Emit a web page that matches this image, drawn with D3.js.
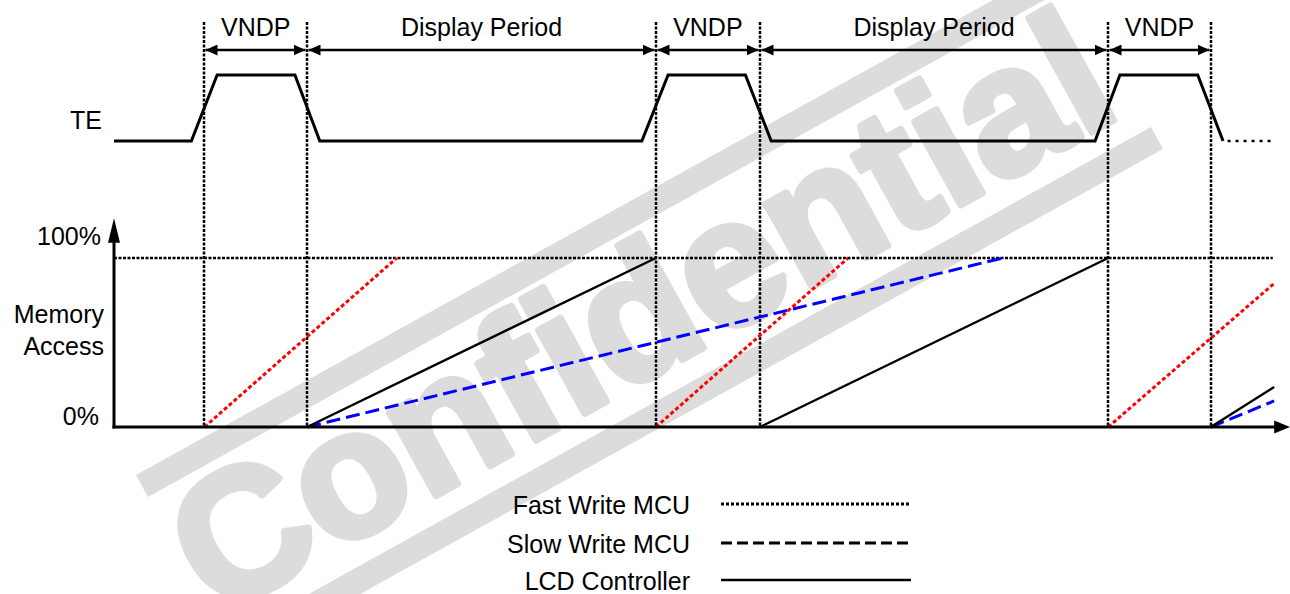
<!DOCTYPE html>
<html>
<head>
<meta charset="utf-8">
<script src="https://cdn.jsdelivr.net/npm/d3@7"></script>
<style>
  body { margin: 0; background: #fff; }
  svg { display: block; }
  text { font-family: Arial, "Liberation Sans", sans-serif; fill: #000; }
</style>
</head>
<body>
<div id="chart"></div>
<script>
// time axis in arbitrary units, frame = 10 units
const periodEdges = [2.0, 4.27, 11.98, 14.28, 21.98, 24.25];
const periodLabels = ['VNDP', 'Display Period', 'VNDP', 'Display Period', 'VNDP'];

// TE signal (0 = low, 1 = high)
const teTimes = [0, 1.71, 2.28, 4.0, 4.55, 11.67, 12.25, 13.96, 14.53, 21.69, 22.24, 23.96, 24.52];
const teLevels = [0, 0, 1, 1, 0, 0, 1, 1, 0, 0, 1, 1, 0];
const teTail = [24.62, 25.6];

// memory access ramps [t, %]
const fastWrite = [[[2.0, 0], [6.25, 100]], [[11.98, 0], [16.23, 100]], [[21.98, 0], [25.65, 85]]];
const slowWrite = [[[4.27, 0], [19.65, 100]], [[24.25, 0], [25.65, 15.4]]];
const lcdController = [[[4.27, 0], [11.98, 100]], [[14.28, 0], [21.98, 100]], [[24.25, 0], [25.65, 23.7]]];

const legendLabels = ['Fast Write MCU', 'Slow Write MCU', 'LCD Controller'];
const yLabels = ['100%', '0%'];

const width = 1290, height = 594;

const svg = d3.select('#chart').append('svg')
  .attr('width', width)
  .attr('height', height);

const x = d3.scaleLinear().domain([0, 26]).range([114, 1290]);
const yTE = d3.scaleLinear().domain([0, 1]).range([141, 75]);
const y = d3.scaleLinear().domain([0, 100]).range([427, 258]);
const px = t => Math.round(x(t)); // crisp dotted guides

// watermark (behind everything)
const wm = svg.append('g').attr('class', 'watermark');
const wmColor = '#dcdcdc';
const ang = -29, ca = Math.cos(ang * Math.PI / 180), sa = Math.sin(ang * Math.PI / 180);
wm.append('line')
  .attr('x1', 142).attr('y1', 486)
  .attr('x2', 142 + ca * 1100).attr('y2', 486 + sa * 1100)
  .attr('stroke', wmColor).attr('stroke-width', 25);
wm.append('line')
  .attr('x1', 1157).attr('y1', 138)
  .attr('x2', 1157 - ca * 1100).attr('y2', 138 - sa * 1100)
  .attr('stroke', wmColor).attr('stroke-width', 25);
wm.append('text')
  .attr('transform', `translate(670,366) rotate(${ang})`)
  .attr('text-anchor', 'middle')
  .style('font-size', '180px')
  .style('font-weight', 'bold')
  .style('fill', wmColor)
  .style('stroke', wmColor)
  .style('stroke-width', 7)
  .style('stroke-linejoin', 'round')
  .text('Confidential');

// vertical dotted guides
const dotted = { width: 2.5, dash: '3,1.5' };
svg.append('g')
  .selectAll('line')
  .data(periodEdges)
  .join('line')
  .attr('x1', d => px(d)).attr('x2', d => px(d))
  .attr('y1', 22).attr('y2', y(0))
  .attr('stroke', '#000').attr('stroke-width', dotted.width)
  .attr('stroke-dasharray', dotted.dash);

// 100% dotted line
svg.append('line')
  .attr('x1', x(0)).attr('x2', x(25.62))
  .attr('y1', y(100)).attr('y2', y(100))
  .attr('stroke', '#000').attr('stroke-width', dotted.width)
  .attr('stroke-dasharray', dotted.dash);

// arrow markers
const defs = svg.append('defs');
defs.append('marker')
  .attr('id', 'ah')
  .attr('viewBox', '0 0 12 11')
  .attr('refX', 12).attr('refY', 5.5)
  .attr('markerWidth', 12).attr('markerHeight', 11)
  .attr('markerUnits', 'userSpaceOnUse')
  .attr('orient', 'auto-start-reverse')
  .append('path').attr('d', 'M0,0L12,5.5L0,11Z').attr('fill', '#000');

// period arrows + labels
const periods = periodLabels.map((label, i) => ({ label, t0: periodEdges[i], t1: periodEdges[i + 1] }));
svg.append('g')
  .selectAll('line')
  .data(periods)
  .join('line')
  .attr('x1', d => px(d.t0) + 1.5).attr('x2', d => px(d.t1) - 1.5)
  .attr('y1', 50).attr('y2', 50)
  .attr('stroke', '#000').attr('stroke-width', 2.5)
  .attr('marker-start', 'url(#ah)')
  .attr('marker-end', 'url(#ah)');
svg.append('g')
  .selectAll('text')
  .data(periods)
  .join('text')
  .attr('x', d => (x(d.t0) + x(d.t1)) / 2)
  .attr('y', 36)
  .attr('text-anchor', 'middle')
  .style('font-size', '25px')
  .text(d => d.label);

// TE waveform
const teLine = d3.line().x(d => x(d[0])).y(d => yTE(d[1]));
svg.append('path')
  .datum(teTimes.map((t, i) => [t, teLevels[i]]))
  .attr('d', teLine)
  .attr('fill', 'none').attr('stroke', '#000').attr('stroke-width', 3)
  .attr('stroke-linejoin', 'miter');
svg.append('line')
  .attr('x1', x(teTail[0])).attr('x2', x(teTail[1]))
  .attr('y1', yTE(0)).attr('y2', yTE(0))
  .attr('stroke', '#000').attr('stroke-width', 2.5)
  .attr('stroke-dasharray', '3,5');
svg.append('text')
  .attr('x', 102).attr('y', 129)
  .attr('text-anchor', 'end')
  .style('font-size', '25px')
  .text('TE');

// memory access series
const mLine = d3.line().x(d => x(d[0])).y(d => y(d[1]));
const seriesStyle = [
  { data: fastWrite, color: '#ff0000', width: 3, dash: '4,2.5' },
  { data: slowWrite, color: '#0000ff', width: 3, dash: '14,6' },
  { data: lcdController, color: '#000', width: 2.4, dash: null }
];
seriesStyle.forEach(s => {
  svg.append('g')
    .selectAll('path')
    .data(s.data)
    .join('path')
    .attr('d', mLine)
    .attr('fill', 'none')
    .attr('stroke', s.color)
    .attr('stroke-width', s.width)
    .attr('stroke-dasharray', s.dash);
});

// axes
svg.append('line')
  .attr('x1', x(0)).attr('x2', x(0))
  .attr('y1', y(0) + 1.5).attr('y2', y(110))
  .attr('stroke', '#000').attr('stroke-width', 3);
svg.append('path')
  .attr('d', `M${x(0)},${y(123.5)}L${x(0) + 6},${y(109)}L${x(0) - 6},${y(109)}Z`)
  .attr('fill', '#000');
svg.append('line')
  .attr('x1', x(0) - 1.5).attr('x2', x(25.7))
  .attr('y1', y(0)).attr('y2', y(0))
  .attr('stroke', '#000').attr('stroke-width', 3);
svg.append('path')
  .attr('d', `M${x(26)},${y(0)}L${x(25.65)},${y(0) - 6.5}L${x(25.65)},${y(0) + 6.5}Z`)
  .attr('fill', '#000');

// y labels
svg.append('text')
  .attr('x', 101).attr('y', y(100) - 13)
  .attr('text-anchor', 'end').style('font-size', '25px')
  .text(yLabels[0]);
svg.append('text')
  .attr('x', 99).attr('y', y(0) - 2)
  .attr('text-anchor', 'end').style('font-size', '25px')
  .text(yLabels[1]);
svg.append('text')
  .attr('x', 104).attr('y', 323)
  .attr('text-anchor', 'end').style('font-size', '25px')
  .text('Memory');
svg.append('text')
  .attr('x', 104).attr('y', 355)
  .attr('text-anchor', 'end').style('font-size', '25px')
  .text('Access');

// legend
const legendY = [504, 543, 580];
const legendDash = ['3,2', '11,5', null];
const legendWidth = [3, 3, 2.4];
const lg = svg.append('g').attr('class', 'legend');
legendLabels.forEach((label, i) => {
  lg.append('text')
    .attr('x', 690).attr('y', legendY[i] + 10)
    .attr('text-anchor', 'end').style('font-size', '25px')
    .text(label);
  lg.append('line')
    .attr('x1', 721).attr('x2', 911)
    .attr('y1', legendY[i]).attr('y2', legendY[i])
    .attr('stroke', '#000')
    .attr('stroke-width', legendWidth[i])
    .attr('stroke-dasharray', legendDash[i]);
});
</script>
</body>
</html>
